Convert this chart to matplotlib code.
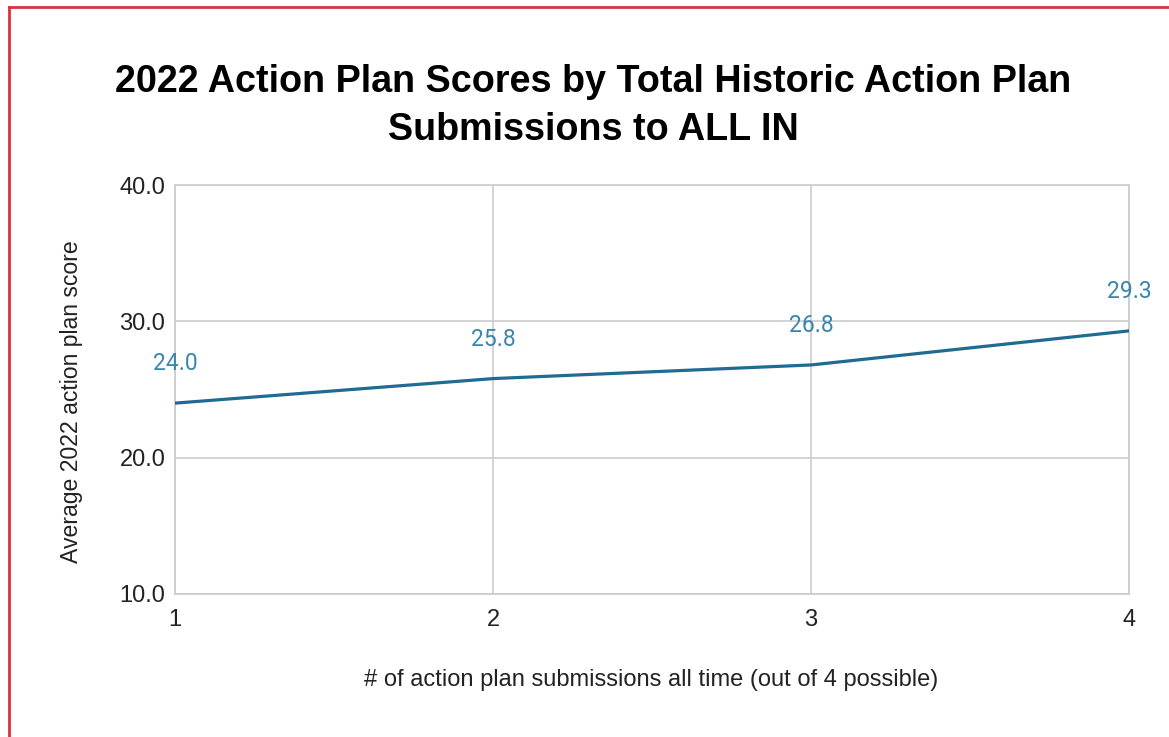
import matplotlib.pyplot as plt
from matplotlib.lines import Line2D

# data
submissions = [1, 2, 3, 4]
avg_score = [24.0, 25.8, 26.8, 29.3]
y_ticks = [10, 20, 30, 40]

title = "2022 Action Plan Scores by Total Historic Action Plan\nSubmissions to ALL IN"
x_label = "# of action plan submissions all time (out of 4 possible)"
y_label = "Average 2022 action plan score"

line_color = "#1f6b91"
label_color = "#3a85ad"
grid_color = "#cccccc"

plt.rcParams['font.family'] = ['Liberation Sans', 'DejaVu Sans']

W, H = 1169, 737
fig = plt.figure(figsize=(W / 100, H / 100), dpi=100)
ax = fig.add_axes([175 / W, 1 - 594 / H, (1129 - 175) / W, (594 - 185) / H])

ax.plot(submissions, avg_score, color=line_color, lw=2.3, solid_capstyle='round', zorder=3)

for x, y in zip(submissions, avg_score):
    ax.annotate(f"{y:.1f}", (x, y), xytext=(0, 28.5), textcoords='offset points',
                ha='center', va='center', color=label_color, fontsize=16.5,
                family=['Roboto', 'DejaVu Sans'])

ax.set_xlim(1, 4)
ax.set_ylim(10, 40)
ax.set_xticks(submissions)
ax.set_xticklabels([str(s) for s in submissions])
ax.set_yticks(y_ticks)
ax.set_yticklabels([f"{t:.1f}" for t in y_ticks])
ax.tick_params(length=0, labelsize=17, colors='#222222')
ax.tick_params(axis='x', pad=11)
ax.tick_params(axis='y', pad=7)
for lab in ax.get_yticklabels():
    lab.set_verticalalignment('center_baseline')

ax.grid(True, color=grid_color, lw=1.2)
for s in ax.spines.values():
    s.set_color(grid_color)
    s.set_linewidth(1.2)

fig.text(593 / W, 1 - 106 / H, title, ha='center', va='center', fontsize=27.2,
         fontweight='bold', linespacing=1.40)
fig.text(651 / W, 1 - 680 / H, x_label, ha='center', va='center', fontsize=17,
         color='#222222')
fig.text(72 / W, 1 - 402 / H, y_label, ha='center', va='center', rotation=90,
         fontsize=16.6, color='#222222')

# red frame along the left and top edge of the screenshot
fig.add_artist(Line2D([9 / W, 9 / W], [0, 1 - 7 / H], color='#d9333f', lw=2,
                      transform=fig.transFigure))
fig.add_artist(Line2D([9 / W, 1], [1 - 7 / H, 1 - 7 / H], color='#d9333f', lw=2,
                      transform=fig.transFigure))

fig.savefig("out.png", dpi=100)
